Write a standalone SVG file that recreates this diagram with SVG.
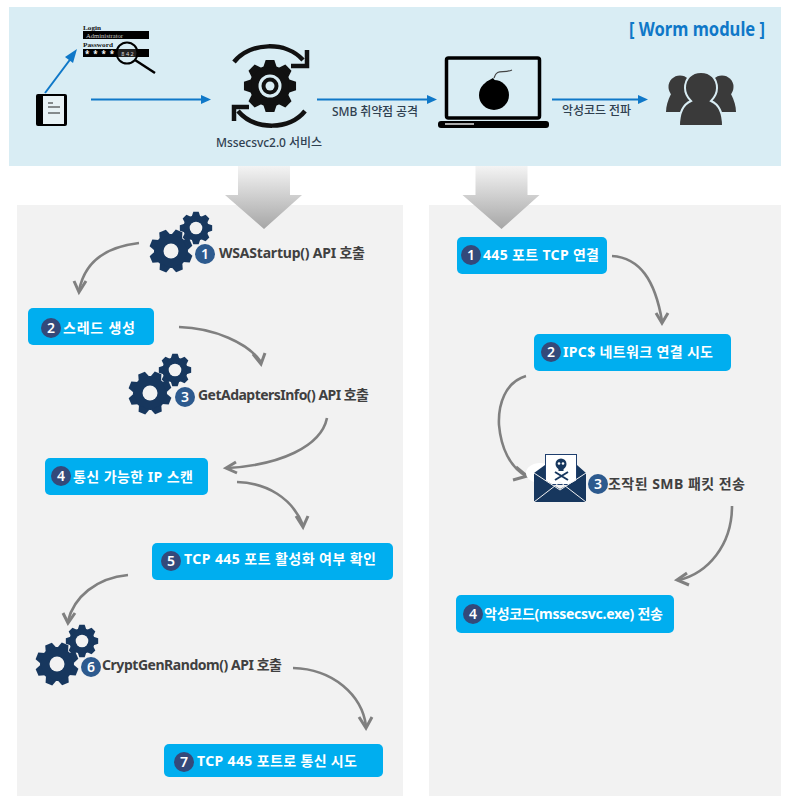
<svg xmlns="http://www.w3.org/2000/svg" xmlns:xlink="http://www.w3.org/1999/xlink" width="792" height="796" viewBox="0 0 792 796">
<style>
text{font-family:"Noto Sans","Noto Sans CJK KR",sans-serif}
.b{fill:#00aeef}
.lb{fill:#fff;font-size:14px;font-weight:700}
.dl{fill:#404040;font-size:14px;font-weight:700}
.sm{fill:#2f4050;font-size:12px;font-weight:500}
.n{fill:#fff;font-size:14px;text-anchor:middle;font-weight:600}
.cv{fill:none;stroke:#808080;stroke-width:2.600}
.ah{fill:none;stroke:#808080;stroke-width:3}
.bl{fill:none;stroke:#0f78c8;stroke-width:2}
.bh{fill:#0f78c8}
.k{fill:#000}
.lg{font-family:"Liberation Serif",serif;font-size:6.500px;font-weight:700}
</style>
<defs>
<linearGradient id="ga" x1="0" y1="0" x2="0" y2="1"><stop offset="0" stop-color="#f4f4f4"/><stop offset="1" stop-color="#a6a6a6"/></linearGradient>
<path id="t" d="M-5.500 -15L-3.500 -21H3.500L5.500 -15Z"/>
<g id="gear"><circle r="16.500"/><use xlink:href="#t"/><use xlink:href="#t" transform="rotate(45)"/><use xlink:href="#t" transform="rotate(90)"/><use xlink:href="#t" transform="rotate(135)"/><use xlink:href="#t" transform="rotate(180)"/><use xlink:href="#t" transform="rotate(225)"/><use xlink:href="#t" transform="rotate(270)"/><use xlink:href="#t" transform="rotate(315)"/></g>
<g id="gears" fill="#17375e">
<use xlink:href="#gear" transform="scale(1.030) rotate(22)"/><circle r="7.500" fill="#f2f2f2"/>
<use xlink:href="#gear" transform="translate(25,-23) scale(.77)"/><circle cx="25" cy="-23" r="6.300" fill="#f2f2f2"/>
</g>
<path id="ga1" d="M0 0H52V29H64L26 63L-13 29H0Z" fill="url(#ga)"/>
</defs>

<rect x="9" y="7" width="772" height="159" fill="#d9edf4"/>
<rect x="17" y="205" width="386" height="591" fill="#f2f2f2"/>
<rect x="429" y="205" width="352" height="591" fill="#f2f2f2"/>
<use xlink:href="#ga1" x="238" y="166"/>
<use xlink:href="#ga1" x="475.500" y="166"/>

<g id="connectors">
<path class="bl" d="M45 93L72 57"/><path class="bh" d="M77 49L73 63L65 57Z"/>
<path class="bl" d="M91 99.500H203"/><path class="bh" d="M211 99.500L201 95V104Z"/>
<path class="bl" d="M317 99.500H430"/><path class="bh" d="M437 99.500L427 95V104Z"/>
<path class="bl" d="M552 99.500H640"/><path class="bh" d="M648 99.500L638 95V104Z"/>
<path class="cv" d="M139 243C104 247 84 264 79 291"/><path class="ah" d="M74 281L79 292L86 281"/>
<path class="cv" d="M179 327C214 328 248 343 261 362"/><path class="ah" d="M253 354L261 364L265 353"/>
<path class="cv" d="M327 418C321 447 279 465 228 468"/><path class="ah" d="M236 462L226 468L237 473"/>
<path class="cv" d="M237 482C267 483 292 498 303 525"/><path class="ah" d="M296 516L303 527L308 516"/>
<path class="cv" d="M128 575C96 578 74 597 68 621"/><path class="ah" d="M63 613L68 623L75 613"/>
<path class="cv" d="M293 668C333 669 362 695 366 726"/><path class="ah" d="M359 717L366 728L372 717"/>
<path class="cv" d="M612 256C640 258 655 280 662 321"/><path class="ah" d="M656 313L662 323L668 313"/>
<path class="cv" d="M526 376C505 382 498 405 499 425C501 448 510 467 526 476"/><path class="ah" d="M513 480L527 476L516 467"/>
<path class="cv" d="M732 506C732 545 708 573 679 580"/><path class="ah" d="M687 573L677 580L689 585"/>
</g>

<g id="doc">
<rect x="36" y="94" width="31" height="32" rx="2" class="k"/><rect x="43" y="96" width="21" height="28" fill="#e8f2f5"/>
<path d="M48 103H53M48 107H60M48 113H60" stroke="#222" stroke-width="1.200" fill="none"/>
</g>
<g id="login">
<text x="83" y="30" class="lg" fill="#111" textLength="18" lengthAdjust="spacingAndGlyphs">Login</text>
<rect x="83" y="31" width="66" height="8" class="k"/>
<text x="86" y="38" fill="#ccc" class="lg" style="font-weight:400" textLength="37" lengthAdjust="spacingAndGlyphs">Administrator</text>
<text x="83" y="47" class="lg" fill="#111" textLength="30" lengthAdjust="spacingAndGlyphs">Password</text>
<rect x="83" y="49" width="66" height="8" class="k"/>
<text x="85" y="57" font-size="8" font-weight="700" fill="#fff" textLength="29">* * * *</text>
<circle cx="127" cy="53" r="10.500" fill="#d9edf4"/>
<rect x="117" y="49" width="20" height="8" fill="#222"/>
<circle cx="127" cy="53" r="10.500" fill="none" stroke="#000" stroke-width="2"/>
<text x="127.500" y="55.500" font-size="5.500" fill="#ddd" text-anchor="middle">8 4 2</text>
<path d="M135 60L155 73" stroke="#000" stroke-width="2.500"/>
</g>
<g id="service">
<use xlink:href="#gear" transform="translate(270,86) scale(1.240)" fill="#111"/>
<circle cx="270" cy="86" r="11.500" fill="#d9edf4"/><circle cx="270" cy="86" r="8.500" fill="#111"/><circle cx="270" cy="86" r="4.500" fill="#d9edf4"/>
<path d="M234 62C250 42 286 41 303 60" fill="none" stroke="#111" stroke-width="4.500"/><path d="M307 50V66H291" fill="none" stroke="#111" stroke-width="4.500"/>
<path d="M305 111C290 130 255 131 238 111" fill="none" stroke="#111" stroke-width="4.500"/><path d="M249 107H234V121" fill="none" stroke="#111" stroke-width="4.500"/>
<text x="216" y="147" class="sm" textLength="106">Mssecsvc2.0 서비스</text>
</g>
<text x="332" y="116" class="sm" textLength="86">SMB 취약점 공격</text>
<g id="laptop">
<rect x="446.500" y="58" width="93" height="60" rx="2" fill="#d9edf4" stroke="#000" stroke-width="3.500"/>
<rect x="438" y="121" width="111" height="7" rx="3" class="k"/><rect x="445" y="123" width="29" height="2" fill="#aaa"/>
<circle cx="494" cy="95" r="15" fill="#000"/><path d="M486 82L493 78L497 83L490 87Z" fill="#000"/>
<path d="M494 78C497 68 503 74 512 70" fill="none" stroke="#444" stroke-width="1.200"/>
</g>
<text x="562" y="115" class="sm" textLength="69">악성코드 전파</text>
<g id="users" fill="#3a3a3a">
<circle cx="680" cy="87" r="11.500"/><path d="M671 94C668 100 666 106 666 112H684L694 94Z"/>
<circle cx="722" cy="87" r="11.500"/><path d="M731 94C734 100 736 106 736 112H718L708 94Z"/>
<path stroke="#d9edf4" stroke-width="2" d="M701 72C711 72 717 79 717 88C717 94 714 98 711 101C718 104 723 112 723 126H679C679 112 684 104 691 101C688 98 685 94 685 88C685 79 691 72 701 72Z"/>
</g>
<text x="629" y="36" font-size="19" font-weight="700" fill="#0f78c8" textLength="136" lengthAdjust="spacingAndGlyphs">[ Worm module ]</text>

<g id="left-1"><use xlink:href="#gears" x="171" y="251"/><circle cx="205" cy="254" r="10" fill="#2d5a8e"/><text x="205" y="259" class="n">1</text><text x="219" y="258" class="dl" textLength="146">WSAStartup() API 호출</text></g>
<g id="left-2"><rect x="28" y="308" width="126" height="37" rx="5" class="b"/><circle cx="51" cy="328" r="10" fill="#34497a"/><text x="51" y="333" class="n">2</text><text x="63" y="333" class="lb" textLength="72">스레드 생성</text></g>
<g id="left-3"><use xlink:href="#gears" x="150" y="393"/><circle cx="185" cy="397" r="10" fill="#2d5a8e"/><text x="185" y="402" class="n">3</text><text x="198" y="400" class="dl" textLength="171">GetAdaptersInfo() API 호출</text></g>
<g id="left-4"><rect x="45" y="458" width="163" height="37" rx="5" class="b"/><circle cx="61" cy="476" r="10" fill="#34497a"/><text x="61" y="481" class="n">4</text><text x="73" y="482" class="lb" textLength="120">통신 가능한 IP 스캔</text></g>
<g id="left-5"><rect x="152" y="543" width="241" height="37" rx="5" class="b"/><circle cx="171" cy="561" r="10" fill="#34497a"/><text x="171" y="566" class="n">5</text><text x="184" y="564" class="lb" textLength="192">TCP 445 포트 활성화 여부 확인</text></g>
<g id="left-6"><use xlink:href="#gears" x="57" y="664"/><circle cx="91" cy="667" r="10" fill="#2d5a8e"/><text x="91" y="672" class="n">6</text><text x="102" y="670" class="dl" textLength="180">CryptGenRandom() API 호출</text></g>
<g id="left-7"><rect x="164" y="744" width="219" height="33" rx="5" class="b"/><circle cx="184" cy="762" r="10" fill="#34497a"/><text x="184" y="767" class="n">7</text><text x="197" y="766" class="lb" textLength="160">TCP 445 포트로 통신 시도</text></g>

<g id="right-1"><rect x="457" y="237" width="150" height="37" rx="5" class="b"/><circle cx="471" cy="255" r="10" fill="#34497a"/><text x="471" y="260" class="n">1</text><text x="483" y="260" class="lb" textLength="116">445 포트 TCP 연결</text></g>
<g id="right-2"><rect x="534" y="334" width="197" height="37" rx="5" class="b"/><circle cx="551" cy="352" r="10" fill="#34497a"/><text x="551" y="357" class="n">2</text><text x="563" y="357" class="lb" textLength="150">IPC$ 네트워크 연결 시도</text></g>
<g id="right-3">
<ellipse cx="540" cy="473" rx="14" ry="10" fill="#fff"/>
<rect x="545.500" y="454.500" width="31" height="30" fill="#fff" stroke="#1f3f6e" stroke-width="1"/>
<path d="M534 473L545 465V480L560 489L577 480V465L586 473V502H534Z" fill="#17375e"/>
<path d="M534 502L560 482L586 502M534 473L560 490L586 473" fill="none" stroke="#f2f2f2" stroke-width="1"/>
<circle cx="561" cy="464" r="5.500" fill="#17375e"/><rect x="558.500" y="467" width="5" height="4" fill="#17375e"/>
<circle cx="559" cy="463.500" r="1.300" fill="#fff"/><circle cx="563" cy="463.500" r="1.300" fill="#fff"/>
<path d="M555 472L568 480M568 472L555 480" stroke="#17375e" stroke-width="2"/>
<circle cx="598" cy="484" r="10" fill="#2d5a8e"/><text x="598" y="489" class="n">3</text>
<text x="608" y="489" class="dl" textLength="137">조작된 SMB 패킷 전송</text>
</g>
<g id="right-4"><rect x="456" y="595" width="218" height="38" rx="5" class="b"/><circle cx="473" cy="614" r="10" fill="#34497a"/><text x="473" y="619" class="n">4</text><text x="484" y="619" class="lb" textLength="179">악성코드(mssecsvc.exe) 전송</text></g>
</svg>
